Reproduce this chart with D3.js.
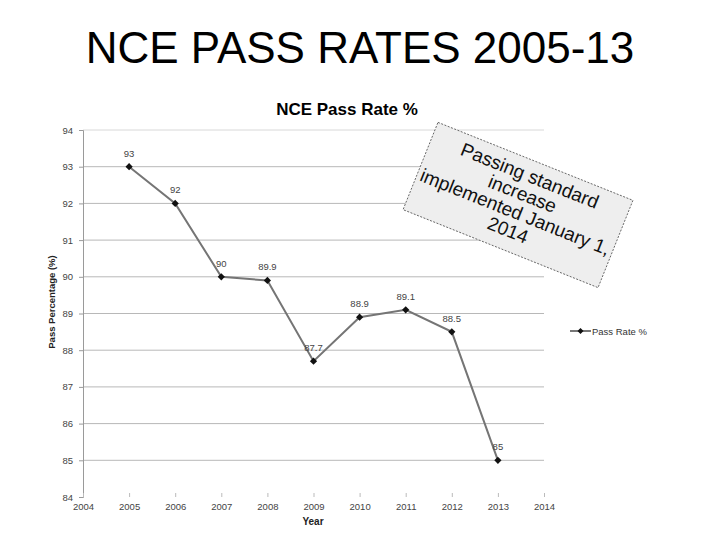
<!DOCTYPE html>
<html>
<head>
<meta charset="utf-8">
<script src="https://cdn.jsdelivr.net/npm/d3@7"></script>
<style>
  html, body { margin: 0; padding: 0; background: #fff; }
  svg { display: block; font-family: "Liberation Sans", Arial, sans-serif; }
</style>
</head>
<body>
<svg id="chart" width="720" height="540"></svg>
<script>
const years = [2005, 2006, 2007, 2008, 2009, 2010, 2011, 2012, 2013];
const passRates = [93, 92, 90, 89.9, 87.7, 88.9, 89.1, 88.5, 85];
const pointLabels = ["93", "92", "90", "89.9", "87.7", "88.9", "89.1", "88.5", "85"];
const xTicks = [2004, 2005, 2006, 2007, 2008, 2009, 2010, 2011, 2012, 2013, 2014];
const yTicks = [84, 85, 86, 87, 88, 89, 90, 91, 92, 93, 94];
const noteLines = ["Passing standard", "increase", "implemented January 1,", "2014"];

const svg = d3.select("#chart");
const plotL = 83, plotR = 544, plotT = 130, plotB = 497;

const x = d3.scaleLinear().domain([2004, 2014]).range([plotL, plotR]);
const y = d3.scaleLinear().domain([84, 94]).range([plotB, plotT]);

// Slide title
svg.append("text").attr("x", 360).attr("y", 63).attr("text-anchor", "middle")
  .attr("font-size", 44).attr("fill", "#000").text("NCE PASS RATES 2005-13");

// Chart title
svg.append("text").attr("x", 347).attr("y", 115).attr("text-anchor", "middle")
  .attr("font-size", 17).attr("font-weight", "bold").attr("fill", "#000").text("NCE Pass Rate %");

// Gridlines
svg.append("g").selectAll("line").data(yTicks.filter(d => d !== 84)).join("line")
  .attr("x1", plotL).attr("x2", plotR)
  .attr("y1", d => y(d)).attr("y2", d => y(d))
  .attr("stroke", d => (d === 94 ? "#d8d8d8" : "#b8b8b8")).attr("stroke-width", 1);

// Y axis
const yAxis = d3.axisLeft(y).tickValues(yTicks).tickSize(4).tickPadding(6).tickFormat(d3.format("d"));
const gy = svg.append("g").attr("transform", `translate(${plotL},0)`).call(yAxis);
gy.select(".domain").attr("stroke", "#9a9a9a");
gy.selectAll(".tick line").attr("stroke", "#9a9a9a");
gy.selectAll("text").attr("font-size", 9.5).attr("fill", "#444").attr("font-family", "Liberation Sans, Arial, sans-serif");

// X axis
const xAxis = d3.axisBottom(x).tickValues(xTicks).tickSize(4).tickPadding(2).tickFormat(d3.format("d"));
const gx = svg.append("g").attr("transform", `translate(0,${plotB})`).call(xAxis);
gx.select(".domain").attr("stroke", "none");
gx.selectAll(".tick line").attr("stroke", "#bbbbbb").attr("transform", "translate(0,-4)");
gx.selectAll("text").attr("font-size", 9.5).attr("fill", "#444").attr("font-family", "Liberation Sans, Arial, sans-serif");

// Axis titles
svg.append("text").attr("x", 313).attr("y", 525).attr("text-anchor", "middle")
  .attr("font-size", 10).attr("font-weight", "bold").attr("fill", "#222").text("Year");
svg.append("text").attr("transform", "translate(55,302) rotate(-90)").attr("text-anchor", "middle")
  .attr("font-size", 9.5).attr("font-weight", "bold").attr("fill", "#222").text("Pass Percentage (%)");

// Line
const data = years.map((yr, i) => ({ yr, v: passRates[i], label: pointLabels[i] }));
svg.append("path").datum(data)
  .attr("fill", "none").attr("stroke", "#757575").attr("stroke-width", 2)
  .attr("d", d3.line().x(d => x(d.yr)).y(d => y(d.v)));

const diamond = d3.symbol().type(d3.symbolSquare).size(26);
svg.append("g").selectAll("path").data(data).join("path")
  .attr("transform", d => `translate(${x(d.yr)},${y(d.v)}) rotate(45)`)
  .attr("d", diamond).attr("fill", "#111");

svg.append("g").selectAll("text").data(data).join("text")
  .attr("x", d => x(d.yr)).attr("y", d => y(d.v) - 10)
  .attr("text-anchor", "middle").attr("font-size", 9.5).attr("fill", "#444")
  .text(d => d.label);

// Legend
const lg = svg.append("g").attr("transform", "translate(570,331)");
lg.append("line").attr("x1", 0).attr("x2", 21).attr("y1", 0).attr("y2", 0).attr("stroke", "#777").attr("stroke-width", 2);
lg.append("path").attr("transform", "translate(10.5,0) rotate(45)").attr("d", d3.symbol().type(d3.symbolSquare).size(18)).attr("fill", "#111");
lg.append("text").attr("x", 22).attr("y", 3.5).attr("font-size", 9.5).attr("fill", "#333").text("Pass Rate %");

// Annotation box
const note = svg.append("g").attr("transform", "translate(518,205) rotate(21.8)");
note.append("rect").attr("x", -105).attr("y", -47).attr("width", 210).attr("height", 94)
  .attr("fill", "#eeeeee").attr("stroke", "#555").attr("stroke-width", 0.8).attr("stroke-dasharray", "2,1.5");
note.append("g").selectAll("text").data(noteLines).join("text")
  .attr("x", 0).attr("y", (d, i) => -25 + i * 19.5)
  .attr("text-anchor", "middle").attr("font-size", 19).attr("fill", "#111")
  .text(d => d);
</script>
</body>
</html>
